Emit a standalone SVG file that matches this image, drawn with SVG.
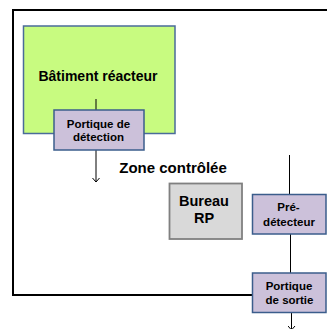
<svg xmlns="http://www.w3.org/2000/svg" width="327" height="329" viewBox="0 0 327 329">
<style>
text{font-family:"Liberation Sans",Arial,sans-serif;font-weight:bold;fill:#000;text-anchor:middle}
.port{fill:#ccc1da;stroke:#3b5d8c;stroke-width:1.5}
.conn{stroke:#000;stroke-width:1;fill:none}
</style>
<defs>
<marker id="arr" markerWidth="8" markerHeight="8" refX="6.5" refY="4" orient="auto" markerUnits="userSpaceOnUse" viewBox="0 0 8 8">
<path d="M2.5,0.5 L6.5,4 L2.5,7.5" fill="none" stroke="#000" stroke-width="1"/>
</marker>
</defs>
<rect width="327" height="329" fill="#fff"/>
<g id="zone">
<path d="M340,10 L13,10 L13,295 L252,295" fill="none" stroke="#000" stroke-width="2"/>
<text x="173" y="173" font-size="15">Zone contrôlée</text>
</g>
<g id="batiment">
<rect x="23.5" y="26" width="151.5" height="107.5" fill="#c8fb80" stroke="#4a6b99" stroke-width="1.5"/>
<text x="98" y="81" font-size="14">Bâtiment réacteur</text>
</g>
<g id="connectors">
<line class="conn" x1="96" y1="99" x2="96" y2="110"/>
<line class="conn" x1="96" y1="150" x2="96" y2="182" marker-end="url(#arr)"/>
<line class="conn" x1="289.5" y1="155" x2="289.5" y2="194"/>
<line class="conn" x1="290.5" y1="234" x2="290.5" y2="273"/>
<line class="conn" x1="291.5" y1="312" x2="291.5" y2="330" marker-end="url(#arr)"/>
</g>
<g id="portique-detection">
<rect class="port" x="54" y="110" width="90" height="40"/>
<text x="98.5" y="128" font-size="11.5">Portique de</text>
<text x="98.5" y="141" font-size="11.5">détection</text>
</g>
<g id="bureau-rp">
<rect x="169.5" y="183.5" width="72.5" height="55.5" fill="#d9d9d9" stroke="#808080" stroke-width="1.8"/>
<text x="204" y="206" font-size="14.5">Bureau</text>
<text x="204" y="223" font-size="14.5">RP</text>
</g>
<g id="pre-detecteur">
<rect class="port" x="252.5" y="194.5" width="73.5" height="39.5"/>
<text x="288.5" y="211" font-size="11.5">Pré-</text>
<text x="289" y="225.5" font-size="11.5">détecteur</text>
</g>
<g id="portique-sortie">
<rect class="port" x="252.5" y="273" width="73.5" height="39.5"/>
<text x="289" y="289.5" font-size="11.5">Portique</text>
<text x="289.5" y="303.5" font-size="11.5">de sortie</text>
</g>
</svg>
